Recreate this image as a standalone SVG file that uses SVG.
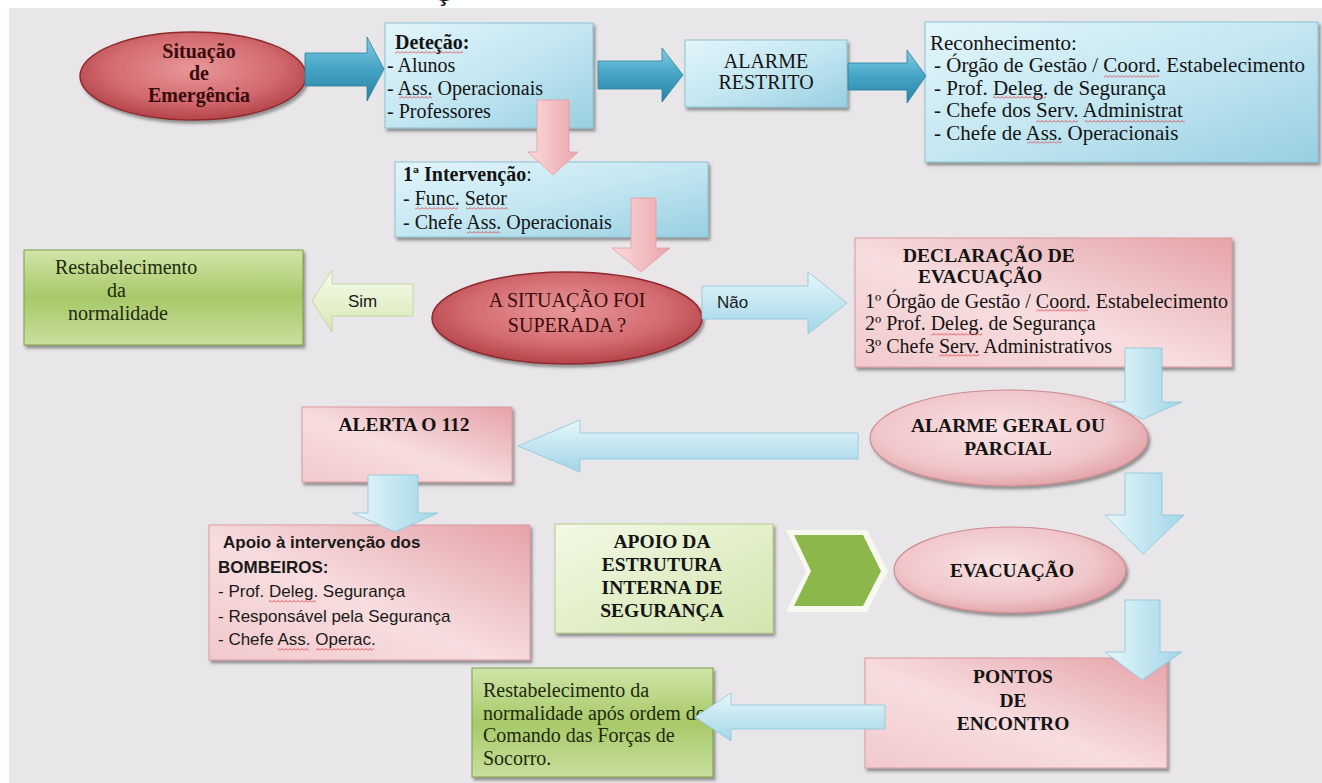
<svg xmlns="http://www.w3.org/2000/svg" width="1322" height="783" viewBox="0 0 1322 783">
<defs>
<linearGradient id="gBlueBox" x1="0" y1="0" x2="1" y2="1"><stop offset="0" stop-color="#e3f5fa"/><stop offset="0.5" stop-color="#c4e7f1"/><stop offset="1" stop-color="#98cfe2"/></linearGradient>
<linearGradient id="gPinkBox" x1="0" y1="1" x2="1" y2="0"><stop offset="0" stop-color="#f1c9cc"/><stop offset="0.45" stop-color="#f7dddf"/><stop offset="1" stop-color="#e5a3a8"/></linearGradient>
<linearGradient id="gGreenBox" x1="0" y1="0" x2="0" y2="1"><stop offset="0" stop-color="#d0e5a9"/><stop offset="0.5" stop-color="#a7c968"/><stop offset="1" stop-color="#c8df9e"/></linearGradient>
<linearGradient id="gLGreen" x1="0" y1="0" x2="1" y2="1"><stop offset="0" stop-color="#f3f9e6"/><stop offset="1" stop-color="#d2e5ad"/></linearGradient>
<radialGradient id="gRedEl" cx="0.5" cy="0.42" r="0.58"><stop offset="0" stop-color="#e8979a"/><stop offset="0.65" stop-color="#d26a6f"/><stop offset="1" stop-color="#b5434a"/></radialGradient>
<radialGradient id="gPinkEl" cx="0.45" cy="0.42" r="0.6"><stop offset="0" stop-color="#f9e2e4"/><stop offset="0.7" stop-color="#f0c6c9"/><stop offset="1" stop-color="#e2a4a9"/></radialGradient>
<linearGradient id="gTeal" x1="0" y1="0" x2="0" y2="1"><stop offset="0" stop-color="#80cce3"/><stop offset="0.5" stop-color="#45a4c5"/><stop offset="1" stop-color="#2b83a5"/></linearGradient>
<linearGradient id="gLBlueH" x1="0" y1="0" x2="0" y2="1"><stop offset="0" stop-color="#e8f7fb"/><stop offset="0.5" stop-color="#c3e6f1"/><stop offset="1" stop-color="#a2d5e8"/></linearGradient>
<linearGradient id="gLBlueV" x1="0" y1="0" x2="1" y2="0"><stop offset="0" stop-color="#e8f7fb"/><stop offset="0.5" stop-color="#c3e6f1"/><stop offset="1" stop-color="#a2d5e8"/></linearGradient>
<linearGradient id="gPinkV" x1="0" y1="0" x2="1" y2="0"><stop offset="0" stop-color="#fbdadc"/><stop offset="1" stop-color="#eaa5aa"/></linearGradient>
<linearGradient id="gSim" x1="0" y1="0" x2="0" y2="1"><stop offset="0" stop-color="#f6fbec"/><stop offset="1" stop-color="#d6e8b5"/></linearGradient>
<filter id="sh" x="-10%" y="-10%" width="125%" height="140%"><feDropShadow dx="2" dy="3" stdDeviation="1.5" flood-color="#3d3d3d" flood-opacity="0.5"/></filter>
<pattern id="wave" width="4" height="3" patternUnits="userSpaceOnUse"><path d="M0 2.5 L2 0.5 L4 2.5" fill="none" stroke="#e0303a" stroke-width="0.8"/></pattern>
<style>
.t{font-family:"Liberation Serif","Times New Roman",serif;font-size:20px;fill:#141414}
.t21{font-size:21px}
.hb{font-family:"Liberation Serif","Times New Roman",serif;font-size:19.5px;font-weight:bold;fill:#141414}
.b{font-weight:bold}
.s{font-family:"Liberation Sans",Arial,sans-serif;font-size:17px;fill:#1a1a1a}
.c{text-anchor:middle}
.gt{fill:#1e2a0e}
.rt{fill:#3a0b0b}
.blue{fill:url(#gBlueBox);stroke:#8cc2d4;stroke-width:1;filter:url(#sh)}
.pink{fill:url(#gPinkBox);stroke:#d99aa0;stroke-width:1;filter:url(#sh)}
.green{fill:url(#gGreenBox);stroke:#7f9d48;stroke-width:1;filter:url(#sh)}
.lgreen{fill:url(#gLGreen);stroke:#b5cd88;stroke-width:1;filter:url(#sh)}
.redel{fill:url(#gRedEl);stroke:#8e2a2f;stroke-width:1.5;filter:url(#sh)}
.pinkel{fill:url(#gPinkEl);stroke:#cc8c91;stroke-width:1.2;filter:url(#sh)}
.teal{fill:url(#gTeal);stroke:#2c7f9e;stroke-width:0.8}
.lbh{fill:url(#gLBlueH);stroke:#8ec5d8;stroke-width:0.8}
.lbv{fill:url(#gLBlueV);stroke:#8ec5d8;stroke-width:0.8}
.pkv{fill:url(#gPinkV);stroke:#e39ca2;stroke-width:0.8}
.sim{fill:url(#gSim);stroke:#bcd294;stroke-width:0.8}
.w{fill:url(#wave)}
</style>
</defs>

<rect x="0" y="0" width="1322" height="783" fill="#ffffff"/>
<rect x="9" y="8" width="1313" height="775" fill="#e8e6e8"/>
<text x="434" y="1" class="hb" style="font-size:24px">Ç</text>

<g id="n-situacao">
<ellipse cx="193" cy="76" rx="113" ry="44" class="redel"/>
<text x="199" y="58" class="hb c rt" style="font-size:20px">Situação</text>
<text x="199" y="80" class="hb c rt" style="font-size:20px">de</text>
<text x="199" y="102" class="hb c rt" style="font-size:20px">Emergência</text>
</g>

<g id="n-detecao">
<rect x="385" y="23" width="208" height="105" class="blue"/>
<text x="395" y="49" class="t b">Deteção:</text>
<text x="387" y="72" class="t">- Alunos</text>
<text x="387" y="95" class="t">- Ass. Operacionais</text>
<text x="387" y="118" class="t">- Professores</text>
<rect x="395" y="51" width="68" height="3" class="w"/>
<rect x="399" y="96" width="33" height="3" class="w"/>
</g>

<g id="n-alarme-restrito">
<rect x="685" y="40" width="162" height="67" class="blue"/>
<text x="766" y="68" class="t c">ALARME</text>
<text x="766" y="89" class="t c">RESTRITO</text>
</g>

<g id="n-reconhecimento">
<rect x="925" y="22" width="393" height="140" class="blue"/>
<text x="930" y="50" class="t t21">Reconhecimento:</text>
<text x="934" y="72" class="t t21">- Órgão de Gestão / Coord. Estabelecimento</text>
<text x="934" y="95" class="t t21">- Prof. Deleg. de Segurança</text>
<text x="934" y="117" class="t t21">- Chefe dos Serv. Administrat</text>
<text x="934" y="140" class="t t21">- Chefe de Ass. Operacionais</text>
<rect x="1104" y="75" width="55" height="3" class="w"/>
<rect x="993" y="96" width="53" height="3" class="w"/>
<rect x="1036" y="120" width="42" height="3" class="w"/>
<rect x="1085" y="120" width="100" height="3" class="w"/>
<rect x="1027" y="141" width="35" height="3" class="w"/>
</g>

<g id="n-intervencao">
<rect x="395" y="162" width="313" height="75" class="blue"/>
<text x="403" y="181" class="t"><tspan class="b">1ª Intervenção</tspan>:</text>
<text x="403" y="205" class="t">- Func. Setor</text>
<text x="403" y="229" class="t">- Chefe Ass. Operacionais</text>
<rect x="415" y="207" width="43" height="3" class="w"/>
<rect x="466" y="207" width="42" height="3" class="w"/>
<rect x="467" y="231" width="33" height="3" class="w"/>
</g>

<g id="n-restab1">
<rect x="24" y="250" width="279" height="95" class="green"/>
<text x="55" y="274" class="t gt">Restabelecimento</text>
<text x="107" y="297" class="t gt">da</text>
<text x="68" y="320" class="t gt">normalidade</text>
</g>

<g id="n-superada">
<ellipse cx="567" cy="318" rx="135" ry="46" class="redel"/>
<text x="567" y="307" class="t c rt">A SITUAÇÃO FOI</text>
<text x="567" y="332" class="t c rt">SUPERADA ?</text>
</g>

<g id="n-declaracao">
<rect x="855" y="238" width="377" height="129" class="pink"/>
<text x="903" y="262" class="hb">DECLARAÇÃO DE</text>
<text x="918" y="283" class="hb">EVACUAÇÃO</text>
<text x="865" y="308" class="t">1º Órgão de Gestão / Coord. Estabelecimento</text>
<text x="865" y="330" class="t">2º Prof. Deleg. de Segurança</text>
<text x="865" y="353" class="t">3º Chefe Serv. Administrativos</text>
<rect x="1036" y="309" width="52" height="3" class="w"/>
<rect x="931" y="333" width="51" height="3" class="w"/>
<rect x="939" y="354" width="40" height="3" class="w"/>
</g>

<g id="n-alarme-geral">
<ellipse cx="1009" cy="438" rx="139" ry="48" class="pinkel"/>
<text x="1008" y="432" class="hb c">ALARME GERAL OU</text>
<text x="1008" y="455" class="hb c">PARCIAL</text>
</g>

<g id="n-alerta112">
<rect x="302" y="407" width="210" height="75" class="pink"/>
<text x="404" y="431" class="hb c">ALERTA O 112</text>
</g>

<g id="n-apoio-bombeiros">
<rect x="209" y="525" width="321" height="135" class="pink"/>
<text x="223" y="548" class="s b">Apoio à intervenção dos</text>
<text x="218" y="573" class="s b">BOMBEIROS:</text>
<text x="218" y="597" class="s">- Prof. Deleg. Segurança</text>
<text x="218" y="622" class="s">- Responsável pela Segurança</text>
<text x="218" y="645" class="s">- Chefe Ass. Operac.</text>
<rect x="269" y="600" width="47" height="3" class="w"/>
<rect x="278" y="648" width="31" height="3" class="w"/>
<rect x="316" y="648" width="58" height="3" class="w"/>
</g>

<g id="n-apoio-estrutura">
<rect x="555" y="524" width="218" height="109" class="lgreen"/>
<text x="662" y="548" class="hb c">APOIO DA</text>
<text x="662" y="571" class="hb c">ESTRUTURA</text>
<text x="662" y="594" class="hb c">INTERNA DE</text>
<text x="662" y="617" class="hb c">SEGURANÇA</text>
</g>

<g id="n-evacuacao">
<ellipse cx="1010" cy="570" rx="116" ry="43" class="pinkel"/>
<text x="1012" y="577" class="hb c">EVACUAÇÃO</text>
</g>

<g id="n-pontos">
<rect x="865" y="658" width="302" height="110" class="pink"/>
<text x="1013" y="683" class="hb c">PONTOS</text>
<text x="1013" y="707" class="hb c">DE</text>
<text x="1013" y="730" class="hb c">ENCONTRO</text>
</g>

<g id="n-restab2">
<rect x="472" y="668" width="241" height="109" class="green"/>
<text x="483" y="697" class="t gt">Restabelecimento da</text>
<text x="483" y="720" class="t gt">normalidade após ordem do</text>
<text x="483" y="742" class="t gt">Comando das Forças de</text>
<text x="483" y="765" class="t gt">Socorro.</text>
</g>

<g id="connectors">
<polygon class="teal" points="305,53 367,53 367,37 384,69 367,101 367,86 305,86"/>
<polygon class="teal" points="598,61 662,61 662,48 683,75 662,102 662,89 598,89"/>
<polygon class="teal" points="848,63 907,63 907,50 926,76 907,103 907,90 848,90"/>
<polygon class="pkv" points="537,100 569,100 569,152 578,152 553,175 528,152 537,152"/>
<polygon class="pkv" points="631,198 656,198 656,248 670,248 641,272 612,248 631,248"/>
<g>
<polygon class="lbh" points="702,286 808,286 808,272 847,303 808,334 808,319 702,319"/>
<text x="717" y="308" class="s">Não</text>
</g>
<g>
<polygon class="sim" points="413,284 332,284 332,270 312,301 332,332 332,316 413,316"/>
<text x="348" y="307" class="s">Sim</text>
</g>
<polygon class="lbv" points="1125,348 1162,348 1162,402 1182,402 1143,419 1107,402 1125,402"/>
<polygon class="lbh" points="858,433 580,433 580,420 518,446 580,472 580,459 858,459"/>
<polygon class="lbv" points="368,475 418,475 418,513 438,513 395,532 353,513 368,513"/>
<polygon class="lbv" points="1125,473 1162,473 1162,515 1184,515 1143,554 1105,515 1125,515"/>
<polygon points="786,530 867,530 888,571 867,612 786,612 806,571" fill="#f7f8f0"/>
<polygon points="794,535 863,535 881,571 863,606 794,606 811,571" fill="#8cb84b"/>
<polygon class="lbv" points="1125,600 1160,600 1160,652 1182,652 1142,680 1105,652 1125,652"/>
<polygon class="lbh" points="885,705 731,705 731,693 695,717 731,741 731,729 885,729"/>
</g>
</svg>
